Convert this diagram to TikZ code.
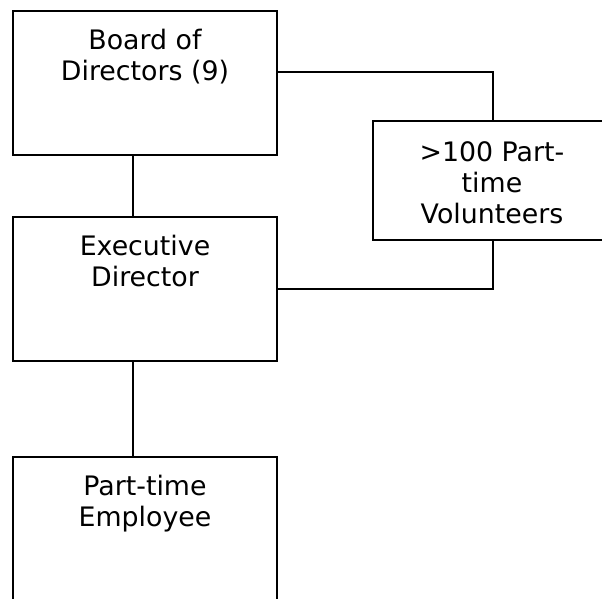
\documentclass[tikz,border=0pt]{standalone}
\usepackage{fontspec}
\setmainfont{DejaVu Sans}
\begin{document}
\begin{tikzpicture}[x=1pt,y=-1pt,
  box/.style={draw=black,line width=2pt,minimum width=264pt,minimum height=144pt,inner sep=0pt},
  lbl/.style={anchor=base,align=center,inner sep=0pt,font=\fontsize{26.8pt}{31pt}\selectfont},
  conn/.style={draw=black,line width=2pt}]
\useasboundingbox (0,0) rectangle (602,598);
\node[box] (board) at (145,83) {};
\node[box] (exec) at (145,289) {};
\node[box] (emp) at (145,529) {};
\node[box,minimum width=237pt,minimum height=119pt] (vol) at (491.5,180.5) {};
\node[lbl] (boardt) at (145,80) {Board of\\Directors (9)};
\node[lbl] (exect) at (145,286.5) {Executive\\Director};
\node[lbl] (empt) at (145,526.5) {Part-time\\Employee};
\node[lbl] (volt) at (492,223) {>100 Part-\\time\\Volunteers};
\draw[conn] ([xshift=-12pt]board.south) -- ([xshift=-12pt]exec.north);
\draw[conn] ([xshift=-12pt]exec.south) -- ([xshift=-12pt]emp.north);
\draw[conn] ([yshift=11pt]board.east) -| ([xshift=1pt]vol.north);
\draw[conn] ([xshift=1pt]vol.south) |- (exec.east);
\end{tikzpicture}
\end{document}
